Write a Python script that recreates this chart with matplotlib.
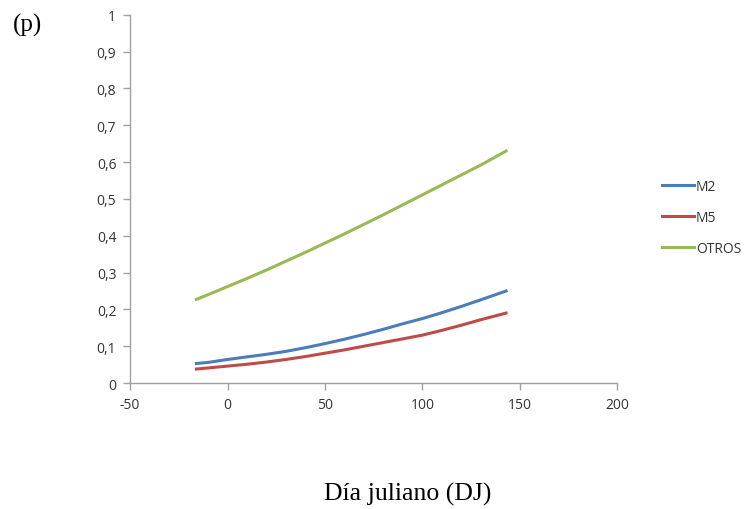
import matplotlib
matplotlib.use("Agg")
import matplotlib.pyplot as plt

dias = [-16, -10, 0, 10, 20, 30, 40, 50, 60, 70, 80, 90, 100, 110, 120, 130, 143]
m2 = [0.053, 0.056, 0.064, 0.071, 0.078, 0.086, 0.096, 0.107, 0.119, 0.132, 0.146, 0.161, 0.175, 0.191, 0.208, 0.226, 0.250]
m5 = [0.038, 0.041, 0.046, 0.051, 0.057, 0.064, 0.072, 0.081, 0.090, 0.100, 0.110, 0.120, 0.130, 0.143, 0.157, 0.172, 0.190]
otros = [0.227, 0.240, 0.262, 0.284, 0.307, 0.331, 0.355, 0.380, 0.405, 0.431, 0.457, 0.484, 0.511, 0.538, 0.565, 0.592, 0.630]
series = [("M2", m2, "#4a7ebb"), ("M5", m5, "#be4b48"), ("OTROS", otros, "#98b954")]

xticks = [-50, 0, 50, 100, 150, 200]
xtick_labels = ["-50", "0", "50", "100", "150", "200"]
yticks = [0, 0.1, 0.2, 0.3, 0.4, 0.5, 0.6, 0.7, 0.8, 0.9, 1]
ytick_labels = ["0", "0,1", "0,2", "0,3", "0,4", "0,5", "0,6", "0,7", "0,8", "0,9", "1"]

fig = plt.figure(figsize=(7.48, 5.10), dpi=100)
ax = fig.add_axes([0.174, 0.247, 0.651, 0.722])

lines = []
for name, vals, col in series:
    l, = ax.plot(dias, vals, color=col, lw=2.2, label=name)
    lines.append(l)

ax.set_xlim(-50, 200)
ax.set_ylim(0, 1)
ax.set_xticks(xticks)
ax.set_xticklabels(xtick_labels)
ax.set_yticks(yticks)
ax.set_yticklabels(ytick_labels)
for s in ["top", "right"]:
    ax.spines[s].set_visible(False)
for s in ["left", "bottom"]:
    ax.spines[s].set_color("#a0a0a0")
    ax.spines[s].set_linewidth(1)
ax.tick_params(axis="both", colors="#a0a0a0", labelcolor="#333333", labelsize=10,
               length=5, width=1)
for lab in ax.get_xticklabels() + ax.get_yticklabels():
    lab.set_family("Open Sans")
ax.tick_params(axis="x", pad=5)
ax.tick_params(axis="y", pad=5)

fig.text(0.545, 0.031, "Día juliano (DJ)", family="Liberation Serif", fontsize=18.5, ha="center", va="center")
fig.text(0.017, 0.95, "(p)", family="Liberation Serif", fontsize=18, ha="left", va="center")

fig.legend(handles=lines, loc="center left", bbox_to_anchor=(0.868, 0.571), frameon=False,
           prop={"family": "Open Sans", "size": 10}, handlelength=2.3, handletextpad=0.15,
           labelspacing=1.15, labelcolor="#333333")

fig.savefig("out.png", dpi=100)
